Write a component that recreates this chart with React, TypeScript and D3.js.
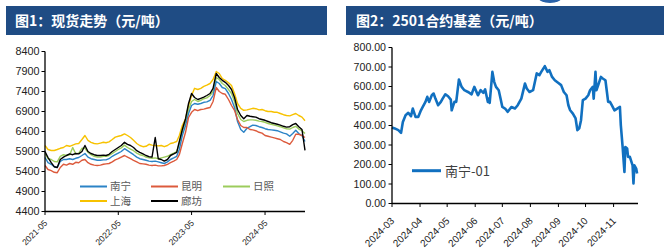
import React from 'react';
import * as d3 from 'd3';

// ---------- Figure 1: spot prices (semi-monthly samples, 1st & 16th) ----------
const spotStart = new Date(2021, 4, 1);
const spotDates: Date[] = d3.timeMonth
  .range(new Date(2021, 4, 1), new Date(2024, 11, 1))
  .flatMap((m) => [m, new Date(m.getFullYear(), m.getMonth(), 16)]);

const nanning = [
  5750, 5620, 5580, 5520, 5500, 5650, 5700, 5700, 5720, 5700, 5730, 5750, 5800, 5850, 5760, 5720,
  5700, 5680, 5680, 5690, 5690, 5720, 5780, 5820, 5860, 5900, 5970, 5920, 5870, 5820, 5760, 5720, 5700, 5680, 5660, 5650, 5660, 5640, 5620, 5600,
  5640, 5700, 5740, 5780, 5950, 6300, 6550, 6850, 7050, 7100, 7080, 7100, 7130, 7140, 7180, 7300, 7650, 7600, 7500, 7470, 7350, 7200, 7000, 6650,
  6450, 6380, 6480, 6520, 6560, 6550, 6520, 6500, 6470, 6450, 6440, 6430, 6420, 6390, 6360, 6340, 6280, 6350, 6430, 6350, 6300, 6150,
];
const kunming = [
  5550, 5450, 5420, 5380, 5370, 5500, 5580, 5560, 5600, 5580, 5630, 5620, 5680, 5700, 5620, 5580,
  5560, 5550, 5560, 5580, 5590, 5600, 5640, 5690, 5720, 5760, 5800, 5760, 5720, 5680, 5640, 5600, 5590, 5580, 5560, 5550, 5560, 5540, 5540, 5550,
  5580, 5620, 5660, 5700, 5820, 6100, 6380, 6750, 6880, 6950, 6920, 6950, 6960, 6980, 7000, 7150, 7500, 7400, 7350, 7330, 7200, 7050, 6930, 6700,
  6550, 6500, 6500, 6450, 6440, 6420, 6380, 6360, 6300, 6280, 6260, 6240, 6220, 6200, 6150, 6120, 6080, 6180, 6330, 6330, 6300, 6250,
];
const rizhao = [
  5850, 5720, 5700, 5650, 5640, 5780, 5820, 5800, 5820, 6000, 5840, 5860, 5980, 5980, 5880, 5820,
  5780, 5760, 5760, 5780, 5780, 5800, 5850, 5900, 5950, 5990, 6060, 6000, 5960, 5920, 5860, 5820, 5800, 5760, 5740, 5730, 5740, 5720, 5740, 5760,
  5780, 5820, 5860, 5900, 6100, 6400, 6650, 6950, 7150, 7200, 7150, 7180, 7220, 7240, 7300, 7400, 7750, 7700, 7600, 7550, 7450, 7350, 7150, 6850,
  6700, 6650, 6680, 6690, 6690, 6680, 6660, 6650, 6630, 6600, 6580, 6560, 6540, 6520, 6490, 6470, 6460, 6500, 6530, 6460, 6420, 6350,
];
const shanghai = [
  6050, 5950, 5925, 5925, 5950, 5980, 6000, 6050, 6030, 6060, 6090, 6100, 6200, 6300, 6180, 6130,
  6100, 6090, 6110, 6130, 6120, 6140, 6200, 6260, 6280, 6300, 6340, 6300, 6250, 6180, 6100, 6050, 6020, 6030, 6080, 6060, 6050, 6040, 6050, 6020,
  6050, 6100, 6120, 6150, 6300, 6550, 6720, 7050, 7300, 7480, 7450, 7480, 7530, 7560, 7600, 7700, 7900, 7850, 7720, 7680, 7620, 7550, 7350, 7100,
  6980, 6930, 6940, 6960, 6980, 6970, 6940, 6950, 6920, 6900, 6900, 6880, 6880, 6850, 6820, 6800, 6790, 6820, 6850, 6800, 6760, 6670,
];
const langfang = [
  5900, 5750, 5620, 5520, 5500, 5700, 5760, 5800, 5840, 5820, 5850, 5840, 5900, 6050, 5900, 5850,
  5820, 5800, 5800, 5810, 5800, 5830, 5900, 5950, 6000, 6050, 6130, 6080, 6050, 6000, 5920, 5880, 5840, 5800, 5770, 5760, 6250, 5720, 5700, 5660,
  5700, 5800, 5840, 5880, 6150, 6450, 6720, 7100, 7350, 7250, 7200, 7230, 7260, 7300, 7350, 7480, 7850, 7750, 7680, 7630, 7550, 7450, 7250, 6950,
  6800, 6720, 6800, 6780, 6770, 6760, 6720, 6700, 6680, 6650, 6620, 6600, 6580, 6560, 6530, 6510, 6520, 6570, 6600, 6520, 6450, 5930,
];
const spotSeries = [
  { name: '南宁', color: '#2b83c6', values: nanning },
  { name: '昆明', color: '#dc5a3c', values: kunming },
  { name: '日照', color: '#9ccc5c', values: rizhao },
  { name: '上海', color: '#f7c200', values: shanghai },
  { name: '廊坊', color: '#000000', values: langfang },
];
// draw order (black on top)
const drawOrder = ['上海', '日照', '南宁', '昆明', '廊坊'];
const spotYTicks = [4400, 4900, 5400, 5900, 6400, 6900, 7400, 7900, 8400];
const spotXTicks = ['2021-05', '2022-05', '2023-05', '2024-05'];

// ---------- Figure 2: 2501 basis ----------
const basisDates = [
  '2024-03-01', '2024-03-04', '2024-03-08', '2024-03-11', '2024-03-13', '2024-03-16', '2024-03-19', '2024-03-22', '2024-03-24', '2024-03-27',
  '2024-03-30', '2024-04-02', '2024-04-04', '2024-04-07', '2024-04-09', '2024-04-11', '2024-04-14', '2024-04-16', '2024-04-18', '2024-04-21',
  '2024-04-24', '2024-04-26', '2024-04-29', '2024-05-02', '2024-05-05', '2024-05-06', '2024-05-09', '2024-05-11', '2024-05-14', '2024-05-17',
  '2024-05-20', '2024-05-24', '2024-05-28', '2024-05-31', '2024-06-04', '2024-06-07', '2024-06-10', '2024-06-12', '2024-06-15', '2024-06-16',
  '2024-06-17', '2024-06-20', '2024-06-22', '2024-06-24', '2024-06-27', '2024-06-29', '2024-07-01', '2024-07-04', '2024-07-07', '2024-07-11',
  '2024-07-15', '2024-07-18', '2024-07-22', '2024-07-26', '2024-07-28', '2024-07-31', '2024-08-04', '2024-08-08', '2024-08-11', '2024-08-13',
  '2024-08-17', '2024-08-20', '2024-08-22', '2024-08-25', '2024-08-28', '2024-09-01', '2024-09-04', '2024-09-07', '2024-09-10', '2024-09-12',
  '2024-09-14', '2024-09-17', '2024-09-20', '2024-09-22', '2024-09-24', '2024-09-26', '2024-09-28', '2024-10-01', '2024-10-04', '2024-10-06',
  '2024-10-09', '2024-10-10', '2024-10-12', '2024-10-13', '2024-10-15', '2024-10-18', '2024-10-20', '2024-10-23', '2024-10-26', '2024-10-28',
  '2024-10-30', '2024-11-02', '2024-11-05', '2024-11-08', '2024-11-09', '2024-11-11', '2024-11-13', '2024-11-14', '2024-11-16', '2024-11-17',
  '2024-11-19', '2024-11-22', '2024-11-23', '2024-11-24', '2024-11-26', '2024-11-27',
];
const basisValues = [
  390, 385, 376, 362, 418, 453, 465, 448, 487, 444,
  444, 478, 495, 521, 547, 521, 555, 564, 538, 504,
  521, 538, 560, 550, 533, 478, 521, 521, 636, 598,
  581, 572, 560, 598, 555, 581, 567, 585, 521, 538,
  516, 675, 624, 598, 581, 538, 495, 487, 470, 495,
  487, 504, 538, 615, 590, 572, 581, 667, 658, 675,
  704, 675, 684, 649, 632, 618, 607, 572, 555, 504,
  478, 461, 436, 376, 385, 427, 530, 538, 555, 581,
  598, 538, 675, 581, 607, 649, 641, 632, 521, 521,
  504, 478, 487, 495, 402, 290, 162, 290, 282, 239,
  239, 196, 103, 196, 179, 154,
];
const basisYTicks = [0, 100, 200, 300, 400, 500, 600, 700, 800];
const basisXTicks = ['2024-03', '2024-04', '2024-05', '2024-06', '2024-07', '2024-08', '2024-09', '2024-10', '2024-11'];

const NUM_FONT = '"Liberation Sans", Arial, sans-serif';
const CJK_FONT = '"Noto Sans CJK SC", "Noto Sans", sans-serif';
const HEADER = '#1f4c84';

const parseDay = d3.timeParse('%Y-%m-%d');
const parseMonth = d3.timeParse('%Y-%m');

function SpotChart() {
  const x = d3.scaleTime().domain([spotStart, new Date(2024, 10, 16)]).range([45, 305]);
  const y = d3.scaleLinear().domain([4400, 8400]).range([211.5, 51.5]);
  const axisY = 211.5;
  const axisX = 45;
  const lines = drawOrder.map((n) => spotSeries.find((s) => s.name === n)!);
  const legend = [
    { name: '南宁', row: 0, col: 0 },
    { name: '昆明', row: 0, col: 1 },
    { name: '日照', row: 0, col: 2 },
    { name: '上海', row: 1, col: 0 },
    { name: '廊坊', row: 1, col: 1 },
  ];
  const colX = [80, 151, 223];
  return (
    <g>
      <rect x={6} y={6} width={321} height={29} fill={HEADER} />
      <text x={15} y={26} fill="#fff" fontFamily={CJK_FONT} fontWeight={700} fontSize={14}>
        图1：现货走势（元/吨）
      </text>
      {lines.map((s) => {
        const gen = d3
          .line<number>()
          .x((_, i) => x(spotDates[i]))
          .y((v) => y(v));
        return <path key={s.name} d={gen(s.values) || ''} fill="none" stroke={s.color} strokeWidth={1.4} strokeLinejoin="round" />;
      })}
      <line x1={axisX} x2={axisX} y1={y(8400)} y2={axisY} stroke="#000" strokeWidth={1.3} />
      <line x1={axisX} x2={305} y1={axisY} y2={axisY} stroke="#000" strokeWidth={1.3} />
      {spotYTicks.map((t) => (
        <g key={t}>
          <line x1={axisX - 3.5} x2={axisX} y1={y(t)} y2={y(t)} stroke="#000" strokeWidth={1} />
          <text x={axisX - 5.5} y={y(t) + 3.8} textAnchor="end" fontFamily={NUM_FONT} fontSize={10.8} fill="#222">
            {t}
          </text>
        </g>
      ))}
      {spotXTicks.map((t) => {
        const xx = x(parseMonth(t)!);
        return (
          <g key={t}>
            <line x1={xx} x2={xx} y1={axisY} y2={axisY + 3.5} stroke="#000" strokeWidth={1} />
            <text
              transform={`translate(${xx + 3},${axisY + 12}) rotate(-45)`}
              textAnchor="end"
              fontFamily={NUM_FONT}
              fontSize={8.6}
              fill="#222"
            >
              {t}
            </text>
          </g>
        );
      })}
      {legend.map((l) => {
        const s = spotSeries.find((q) => q.name === l.name)!;
        const ly = 186.5 + l.row * 14.5;
        const lx = colX[l.col];
        return (
          <g key={l.name}>
            <line x1={lx} x2={lx + 27} y1={ly} y2={ly} stroke={s.color} strokeWidth={2} />
            <text x={lx + 30} y={ly + 3.8} fontFamily={CJK_FONT} fontSize={10.5} fill="#595959">
              {l.name}
            </text>
          </g>
        );
      })}
    </g>
  );
}

function BasisChart() {
  const x = d3.scaleTime().domain([new Date(2024, 2, 1), new Date(2024, 10, 28)]).range([392, 638]);
  const y = d3.scaleLinear().domain([0, 800]).range([203.5, 47.5]);
  const axisY = 203.5;
  const axisX = 392;
  const data = basisDates.map((d, i) => ({ d: parseDay(d)!, v: basisValues[i] }));
  const gen = d3
    .line<{ d: Date; v: number }>()
    .x((p) => x(p.d))
    .y((p) => y(p.v));
  const fmt = d3.format('.2f');
  return (
    <g>
      <ellipse cx={550} cy={-3} rx={12} ry={6} fill="#2a62a8" />
      <rect x={346} y={6} width={318} height={29} fill={HEADER} />
      <text x={356} y={26} fill="#fff" fontFamily={CJK_FONT} fontWeight={700} fontSize={14}>
        图2：2501合约基差（元/吨）
      </text>
      <path d={gen(data) || ''} fill="none" stroke="#1170c0" strokeWidth={2.6} strokeLinejoin="round" />
      <line x1={axisX} x2={axisX} y1={y(800)} y2={axisY} stroke="#000" strokeWidth={1.3} />
      <line x1={axisX} x2={638} y1={axisY} y2={axisY} stroke="#000" strokeWidth={1.3} />
      {basisYTicks.map((t) => (
        <g key={t}>
          <line x1={axisX - 3.5} x2={axisX} y1={y(t)} y2={y(t)} stroke="#000" strokeWidth={1} />
          <text x={axisX - 6} y={y(t) + 3.8} textAnchor="end" fontFamily={NUM_FONT} fontSize={10.6} fill="#222">
            {fmt(t)}
          </text>
        </g>
      ))}
      {basisXTicks.map((t) => {
        const xx = x(parseMonth(t)!);
        return (
          <g key={t}>
            <line x1={xx} x2={xx} y1={axisY} y2={axisY + 3.5} stroke="#000" strokeWidth={1} />
            <text
              transform={`translate(${xx + 3},${axisY + 18}) rotate(-45)`}
              textAnchor="end"
              fontFamily={NUM_FONT}
              fontSize={10}
              fill="#222"
            >
              {t}
            </text>
          </g>
        );
      })}
      <line x1={412} x2={441} y1={170.7} y2={170.7} stroke="#1170c0" strokeWidth={3} />
      <text x={445} y={175.5} fontFamily={CJK_FONT} fontSize={13} fill="#404040">
        南宁-01
      </text>
    </g>
  );
}

export default function App() {
  return (
    <svg
      width={670}
      height={248}
      viewBox="0 0 670 248"
      style={{ position: 'absolute', left: 0, top: 0, background: '#fff' }}
    >
      <rect width={670} height={248} fill="#fff" />
      <SpotChart />
      <BasisChart />
    </svg>
  );
}
